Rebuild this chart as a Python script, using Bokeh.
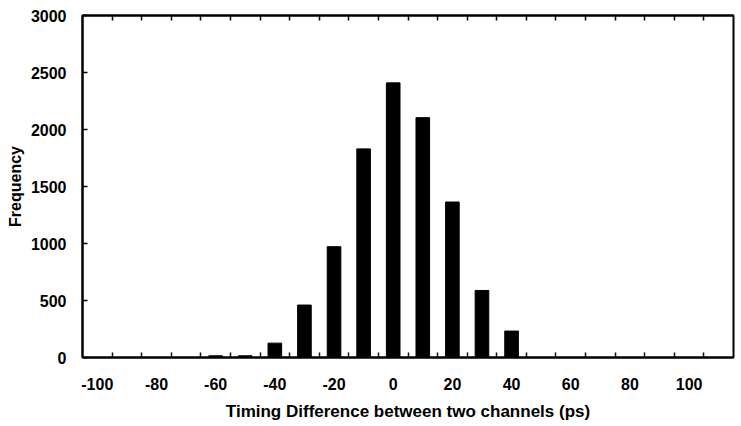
from bokeh.plotting import figure
from bokeh.models import Range1d, FixedTicker, LinearAxis, ColumnDataSource
from bokeh.embed import file_html
from bokeh.resources import INLINE

# Data
bins = [-60, -50, -40, -30, -20, -10, 0, 10, 20, 30, 40]
frequency = [15, 15, 126, 460, 972, 1830, 2409, 2104, 1364, 588, 232]

x_label_ticks = [-100, -80, -60, -40, -20, 0, 20, 40, 60, 80, 100]
x_bin_edges = [-95, -85, -75, -65, -55, -45, -35, -25, -15, -5, 5, 15, 25, 35, 45, 55, 65, 75, 85, 95, 105]
y_ticks = [0, 500, 1000, 1500, 2000, 2500, 3000]

FONT = "Liberation Sans"

p = figure(width=741, height=426,
           x_range=Range1d(-105, 115), y_range=Range1d(0, 3000),
           output_backend="svg", toolbar_location=None,
           x_axis_location=None, y_axis_location=None,
           min_border_left=82, min_border_right=8,
           min_border_top=15, min_border_bottom=69)
p.grid.visible = False
p.outline_line_color = "black"
p.outline_line_width = 2
p.background_fill_color = "white"
p.border_fill_color = "white"

src = ColumnDataSource(dict(x=bins, top=frequency))
p.vbar(x="x", top="top", width=4.6, source=src, fill_color="black", line_color="black")

def style(ax):
    ax.axis_line_color = "black"
    ax.axis_line_width = 2
    ax.major_tick_line_color = "black"
    ax.major_tick_line_width = 1.5
    ax.minor_tick_line_color = "black"
    ax.minor_tick_line_width = 1.5
    ax.major_label_text_font = FONT
    ax.major_label_text_font_style = "bold"
    ax.major_label_text_color = "black"
    ax.axis_label_text_font = FONT
    ax.axis_label_text_font_style = "bold"
    ax.axis_label_text_color = "black"

xb = LinearAxis(ticker=FixedTicker(ticks=x_label_ticks, minor_ticks=x_bin_edges),
                axis_label="Timing Difference between two channels (ps)")
style(xb)
xb.major_label_overrides = {t: str(t) for t in x_label_ticks}
xb.major_tick_in = 0
xb.major_tick_out = 0
xb.minor_tick_in = 5
xb.minor_tick_out = 0
xb.major_label_text_font_size = "16px"
xb.major_label_standoff = 20
xb.axis_label_text_font_size = "17px"
xb.axis_label_standoff = 9
p.add_layout(xb, "below")

# top edge: only the inward bin-edge ticks, no labels
xt = LinearAxis(ticker=FixedTicker(ticks=[], minor_ticks=x_bin_edges))
style(xt)
xt.major_tick_in = 0
xt.major_tick_out = 0
xt.minor_tick_in = 5
xt.minor_tick_out = 0
xt.major_label_standoff = 0
p.add_layout(xt, "above")

yl = LinearAxis(ticker=FixedTicker(ticks=y_ticks, minor_ticks=[]),
                axis_label="Frequency")
style(yl)
yl.major_tick_in = 5
yl.major_tick_out = 0
yl.minor_tick_in = 0
yl.minor_tick_out = 0
yl.major_label_text_font_size = "16px"
yl.major_label_standoff = 16
yl.axis_label_text_font_size = "16px"
yl.axis_label_standoff = 4
p.add_layout(yl, "left")

open("out.html", "w").write(file_html(p, INLINE))
